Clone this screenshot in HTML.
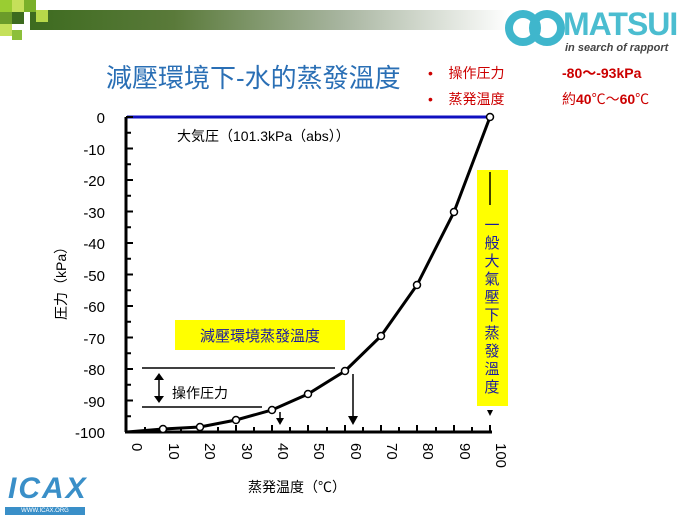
<!DOCTYPE html>
<html><head><meta charset="utf-8"><style>
body{margin:0;width:700px;height:525px;background:#fff;overflow:hidden;position:relative;font-family:"Liberation Sans","Noto Sans CJK TC",sans-serif}
.a{position:absolute;white-space:nowrap}
</style></head><body>
<div class="a" style="left:30px;top:10px;width:480px;height:20px;background:linear-gradient(90deg,#3d6b1f 0%,#5a7a3a 30%,#a8b5a0 65%,#fff 100%)"></div>
<div class="a" style="left:0;top:0;width:12px;height:12px;background:#9acd32"></div>
<div class="a" style="left:12px;top:0;width:12px;height:12px;background:#c5e05a"></div>
<div class="a" style="left:24px;top:0;width:12px;height:12px;background:#7ab02a"></div>
<div class="a" style="left:0;top:12px;width:12px;height:12px;background:#6b9b2a"></div>
<div class="a" style="left:12px;top:12px;width:12px;height:12px;background:#3d6b1f"></div>
<div class="a" style="left:36px;top:10px;width:12px;height:12px;background:#b7d84a"></div>
<div class="a" style="left:0;top:24px;width:12px;height:12px;background:#c5e05a"></div>
<div class="a" style="left:12px;top:30px;width:10px;height:10px;background:#8cbf3a"></div>
<svg class="a" style="left:505px;top:8px" width="60" height="40"><circle cx="18" cy="20" r="14" fill="none" stroke="#3fb6cc" stroke-width="8"/><circle cx="42" cy="20" r="14" fill="none" stroke="#3fb6cc" stroke-width="8"/></svg>
<div class="a" style="left:563px;top:6px;font-size:32px;font-weight:bold;color:#4bbdd0;letter-spacing:-1px">MATSUI</div>
<div class="a" style="left:565px;top:42px;font-size:11px;font-style:italic;font-weight:bold;color:#444">in search of rapport</div>
<div class="a" style="left:106px;top:58px;font-size:26px;color:#2a6fb5">減壓環境下-水的蒸發溫度</div>
<div class="a" style="left:428px;top:63px;font-size:14px;color:#c00">•&nbsp;&nbsp;&nbsp;&nbsp;操作圧力</div>
<div class="a" style="left:428px;top:89px;font-size:14px;color:#c00">•&nbsp;&nbsp;&nbsp;&nbsp;蒸発温度</div>
<div class="a" style="left:562px;top:63px;font-size:14px;font-weight:bold;color:#c00">-80～-93kPa</div>
<div class="a" style="left:562px;top:89px;font-size:14px;color:#c00">約<b>40</b>℃～<b>60</b>℃</div>
<svg class="a" style="left:0;top:0" width="700" height="525" font-family="Liberation Sans,Noto Sans CJK JP,sans-serif">
<rect x="175" y="320" width="170" height="30" fill="#ffff00"/>
<text x="260" y="341" font-size="15" fill="#1a1aa0" text-anchor="middle">減壓環境蒸發溫度</text>
<rect x="477" y="170" width="31" height="236" fill="#ffff00"/>
<g font-size="15" fill="#1a1aa0" text-anchor="middle">
<text x="492" y="230">一</text><text x="492" y="248">般</text><text x="492" y="266">大</text><text x="492" y="284">氣</text><text x="492" y="302">壓</text><text x="492" y="320">下</text><text x="492" y="338">蒸</text><text x="492" y="356">發</text><text x="492" y="374">溫</text><text x="492" y="392">度</text></g>
<line x1="490" y1="172" x2="490" y2="205" stroke="#000" stroke-width="1.5"/>
<polygon points="487,410 493,410 490,416" fill="#000"/>
<line x1="127" y1="117" x2="490" y2="117" stroke="#1010c0" stroke-width="3"/>
<line x1="126" y1="117" x2="126" y2="432" stroke="#000" stroke-width="3"/>
<line x1="125" y1="432" x2="492" y2="432" stroke="#000" stroke-width="3"/>
<g stroke="#000" stroke-width="2">
<path d="M126 117h7M126 132.75h5M126 148.5h7M126 164.25h5M126 180h7M126 195.75h5M126 211.5h7M126 227.25h5M126 243h7M126 258.75h5M126 274.5h7M126 290.25h5M126 306h7M126 321.75h5M126 337.5h7M126 353.25h5M126 369h7M126 384.75h5M126 400.5h7M126 416.25h5"/>
<path d="M145 432v-5M163 432v-7M181 432v-5M200 432v-7M218 432v-5M236 432v-7M254 432v-5M272 432v-7M290 432v-5M308 432v-7M327 432v-5M345 432v-7M363 432v-5M381 432v-7M399 432v-5M417 432v-7M436 432v-5M454 432v-7M472 432v-5M490 432v-7"/>
</g>
<g font-size="15" text-anchor="end" fill="#000">
<text x="105" y="123">0</text><text x="105" y="155">-10</text><text x="105" y="186">-20</text><text x="105" y="218">-30</text><text x="105" y="249">-40</text><text x="105" y="281">-50</text><text x="105" y="312">-60</text><text x="105" y="344">-70</text><text x="105" y="375">-80</text><text x="105" y="407">-90</text><text x="105" y="438">-100</text></g>
<g font-size="15" fill="#000">
<text transform="translate(132,443) rotate(90)">0</text><text transform="translate(169,443) rotate(90)">10</text><text transform="translate(205,443) rotate(90)">20</text><text transform="translate(242,443) rotate(90)">30</text><text transform="translate(278,443) rotate(90)">40</text><text transform="translate(314,443) rotate(90)">50</text><text transform="translate(351,443) rotate(90)">60</text><text transform="translate(387,443) rotate(90)">70</text><text transform="translate(423,443) rotate(90)">80</text><text transform="translate(460,443) rotate(90)">90</text><text transform="translate(496,443) rotate(90)">100</text></g>
<text transform="translate(66,320) rotate(-90)" font-size="14">圧力（kPa）</text>
<text x="248" y="492" font-size="14">蒸発温度（℃）</text>
<text x="177" y="141" font-size="14">大気圧（101.3kPa（abs））</text>
<polyline fill="none" stroke="#000" stroke-width="3" points="127,432 163,429 200,427 236,420 272,410 308,394 345,371 381,336 417,285 454,212 490,117"/>
<g fill="#fff" stroke="#000" stroke-width="1.5">
<circle cx="163" cy="429" r="3.5"/><circle cx="200" cy="427" r="3.5"/><circle cx="236" cy="420" r="3.5"/><circle cx="272" cy="410" r="3.5"/><circle cx="308" cy="394" r="3.5"/><circle cx="345" cy="371" r="3.5"/><circle cx="381" cy="336" r="3.5"/><circle cx="417" cy="285" r="3.5"/><circle cx="454" cy="212" r="3.5"/><circle cx="490" cy="117" r="3.5"/></g>
<g stroke="#000" stroke-width="1.5">
<line x1="142" y1="368" x2="335" y2="368"/><line x1="142" y1="407" x2="262" y2="407"/>
<line x1="159" y1="378" x2="159" y2="397"/><line x1="353" y1="374" x2="353" y2="418"/><line x1="280" y1="412" x2="280" y2="420"/></g>
<polygon points="154,380 164,380 159,373" /><polygon points="154,396 164,396 159,403"/>
<polygon points="348,416 358,416 353,425"/><polygon points="276,418 284,418 280,425"/>
<text x="172" y="398" font-size="14">操作圧力</text>
</svg>
<div class="a" style="left:8px;top:472px;font-size:30px;font-style:italic;font-weight:bold;color:#3a8fc8;letter-spacing:2px">ICAX</div>
<div class="a" style="left:5px;top:507px;width:80px;height:8px;background:#3a8fc8;font-size:6px;color:#fff;text-align:center;line-height:8px">WWW.ICAX.ORG</div>
</body></html>
